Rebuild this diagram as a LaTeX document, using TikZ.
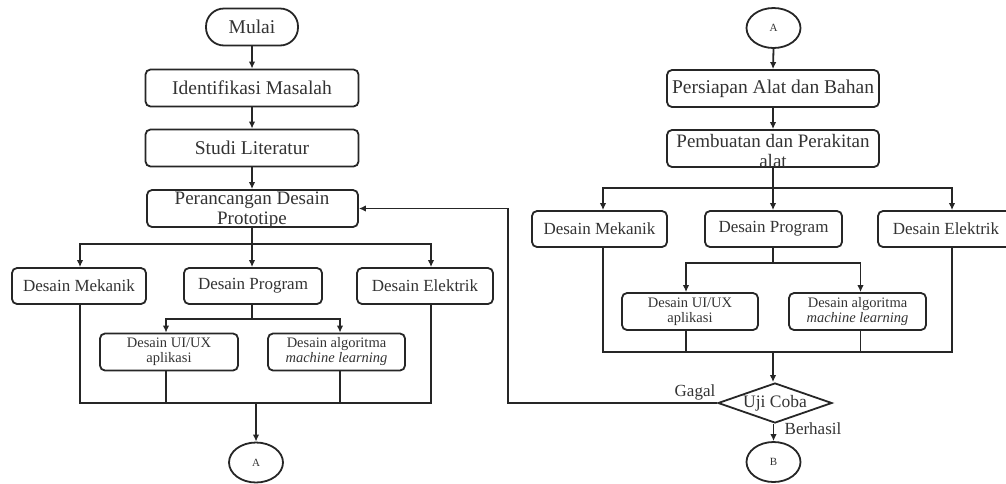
\documentclass[tikz,border=0pt]{standalone}
\usepackage{fontspec}
\setmainfont{Liberation Serif}
\usetikzlibrary{shapes.geometric,arrows.meta,calc}
\definecolor{ln}{gray}{0.15}
\definecolor{tx}{gray}{0.2}
\begin{document}
\begin{tikzpicture}[x=1pt,y=-1pt,
  every node/.style={text=tx},
  box/.style={draw=ln, line width=1.8pt, rounded corners=5pt, inner sep=0pt, align=center},
  bigbox/.style={box, minimum width=212, minimum height=37, font=\fontsize{19.5}{20}\selectfont},
  midbox/.style={box, minimum height=36, font=\fontsize{17}{18}\selectfont},
  subbox/.style={box, minimum width=137, minimum height=37, font=\fontsize{14.5}{15}\selectfont},
  term/.style={draw=ln, line width=1.8pt, rounded corners=18pt, minimum width=92, minimum height=37, inner sep=0pt, font=\fontsize{19.5}{20}\selectfont},
  conn/.style={draw=ln, line width=1.8pt, ellipse, minimum width=54, minimum height=40, inner sep=0pt, font=\fontsize{11}{12}\selectfont},
  wrap/.style={align=center, inner sep=0pt, font=\fontsize{19}{20}\selectfont},
  ln/.style={draw=ln, line width=1.8pt},
  arr/.style={ln, -{Latex[length=7pt,width=6.5pt]}},
  lbl/.style={inner sep=0pt, font=\fontsize{17}{18}\selectfont}
]
\useasboundingbox (0,0) rectangle (1006,483);

% ---------------- left column ----------------
\node[term] (mulai) at (252,27) {Mulai};
\node[bigbox, minimum width=213] (idm) at (252,88) {Identifikasi Masalah};
\node[bigbox, minimum width=213] (studi) at (252,148) {Studi Literatur};
\node[bigbox, minimum width=211] (peran) at (252.5,208.5) {};
\node[wrap] (peranT) at (252,210) {Perancangan Desain\\Prototipe};

\node[midbox, minimum width=134] (lMek) at (79,286) {Desain Mekanik};
\node[midbox, minimum width=138] (lProg) at (253,286) {Desain Program};
\node[midbox, minimum width=136] (lElk) at (425,286) {Desain Elektrik};

\node[subbox, minimum width=138] (lUI) at (169,352) {Desain UI/UX\\aplikasi};
\node[subbox] (lAlg) at (336.5,352) {Desain algoritma\\\textit{machine learning}};

\node[conn] (A1) at (256,462.5) {A};

\coordinate (j1) at (252,244);
\coordinate (j2) at (252,319);
\coordinate (m1) at (256,403);

\draw[arr] (mulai.south) -- (idm.north);
\draw[arr] (idm.south) -- (studi.north);
\draw[arr] (studi.south) -- (studi.south |- peran.north);
\draw[arr] (peran.south -| j1) -- (j1 |- lProg.north);
\draw[arr] (j1) -| ([xshift=1]lMek.north);
\draw[arr] (j1) -| ([xshift=6]lElk.north);
\draw[ln] (lProg.south -| j2) -- (j2);
\draw[arr] (j2) -| ([xshift=-3]lUI.north);
\draw[arr] (j2) -| ([xshift=3.5]lAlg.north);
\draw[ln] ([xshift=1]lMek.south) |- (m1) -| ([xshift=6]lElk.south);
\draw[ln] ([xshift=-3]lUI.south) -- ([xshift=-3]lUI.south |- m1);
\draw[ln] ([xshift=3.5]lAlg.south) -- ([xshift=3.5]lAlg.south |- m1);
\draw[arr] (m1) -- (A1.north);

% ---------------- right column ----------------
\node[conn] (A2) at (773.5,28) {A};
\node[bigbox] (pers) at (773,88.5) {Persiapan Alat dan Bahan};
\node[bigbox] (pemb) at (773,148.5) {};
\node[wrap] (pembT) at (773,151) {Pembuatan dan Perakitan\\alat};

\node[midbox, minimum width=135] (rMek) at (599.5,229) {Desain Mekanik};
\node[midbox, minimum width=137] (rProg) at (773.5,229) {Desain Program};
\node[midbox, minimum width=136] (rElk) at (946,229) {Desain Elektrik};

\node[subbox, minimum width=136] (rUI) at (690,311.5) {Desain UI/UX\\aplikasi};
\node[subbox] (rAlg) at (857.5,311.5) {Desain algoritma\\\textit{machine learning}};

\node[draw=ln, line width=1.8pt, diamond, aspect=2.85, minimum width=114, minimum height=40, inner sep=0pt, font=\fontsize{17.5}{18}\selectfont] (uji) at (775,403) {Uji Coba};
\node[conn] (B) at (773.5,462) {B};

\coordinate (k1) at (773,188);
\coordinate (k2) at (773,263);
\coordinate (m2) at (773,352);
\coordinate (g1) at (508,403);

\draw[arr] (A2.south) -- (pers.north);
\draw[arr] (pers.south) -- (pemb.north);
\draw[arr] (pemb.south -| k1) -- (k1 |- rProg.north);
\draw[arr] (k1) -| ([xshift=3.5]rMek.north);
\draw[arr] (k1) -| ([xshift=6]rElk.north);
\draw[ln] (rProg.south -| k2) -- (k2);
\draw[arr] (k2) -| ([xshift=-4]rUI.north);
\draw[arr] (k2) -| ([xshift=3]rAlg.north);
\draw[ln] ([xshift=3.5]rMek.south) |- (m2) -| ([xshift=6]rElk.south);
\draw[ln] ([xshift=-4]rUI.south) -- ([xshift=-4]rUI.south |- m2);
\draw[ln] ([xshift=3]rAlg.south) -- ([xshift=3]rAlg.south |- m2);
\draw[arr] (m2) -- (m2 |- uji.north);
\draw[arr] (uji.south -| B) -- (B.north);
\draw[arr] (uji.west) -- (g1) |- (peran.east);

\node[lbl] (gagal) at (695,392) {Gagal};
\node[lbl] (berhasil) at (813,429) {Berhasil};
\end{tikzpicture}
\end{document}
